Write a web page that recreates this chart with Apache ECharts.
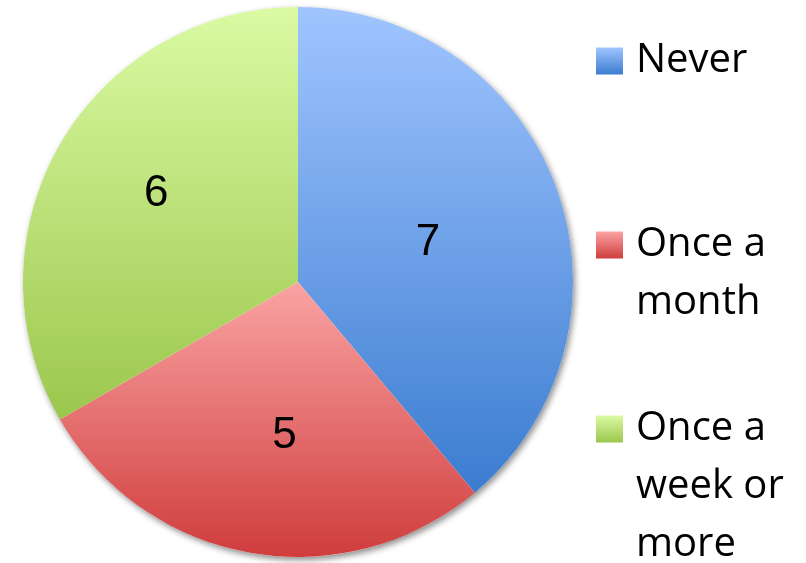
<!DOCTYPE html>
<html>
<head>
<meta charset="utf-8">
<script src="https://cdn.jsdelivr.net/npm/echarts@6/dist/echarts.min.js"></script>
<style>
  html, body { margin: 0; padding: 0; background: #fff; }
  #chart { width: 806px; height: 563px; }
</style>
</head>
<body>
<div id="chart"></div>
<script>
// data
const categories = ['Never', 'Once a\nmonth', 'Once a\nweek or\nmore']
const values = [7, 5, 6]
const topColors = ['#a0c5ff', '#faa3a3', '#dbfaa3']
const bottomColors = ['#3b7cd0', '#d03d3d', '#9bc74d']
// nudge labels to where the original put them
const labelOffsets = [[-2, 9], [11, 15], [-20, -18]]

const grad = (a, b) => new echarts.graphic.LinearGradient(0, 0, 0, 1, [
  { offset: 0, color: a },
  { offset: 1, color: b }
])

const pieData = categories.map((name, i) => ({
  name: name,
  value: values[i],
  itemStyle: { color: grad(topColors[i], bottomColors[i]) },
  label: { offset: labelOffsets[i] }
}))

const lineH = 58
const markerCenters = [60, 244, 428]
const legends = categories.map((name, i) => {
  const lines = name.split('\n').length
  // pad with empty lines above so the marker sits beside the first line
  const pad = '\n'.repeat(lines - 1)
  return {
    data: [name],
    left: 596,
    top: markerCenters[i] - (2 * lines - 1) * lineH / 2 + 1,
    padding: 0,
    orient: 'vertical',
    itemWidth: 27,
    itemHeight: 27,
    icon: 'rect',
    selectedMode: false,
    formatter: n => pad + n,
    textStyle: {
      fontFamily: 'Open Sans',
      fontSize: 40,
      color: '#000',
      lineHeight: lineH,
      padding: [0, 0, 0, 8]
    }
  }
})

const chart = echarts.init(document.getElementById('chart'))
chart.setOption({
  animation: false,
  legend: legends,
  series: [
    {
      // shadow disc under the pie
      type: 'pie',
      silent: true,
      z: 1,
      center: [298, 282],
      radius: 275,
      label: { show: false },
      itemStyle: {
        color: '#fff',
        shadowBlur: 6,
        shadowOffsetX: 2,
        shadowOffsetY: 3,
        shadowColor: 'rgba(0,0,0,0.45)'
      },
      data: [{ value: 1, name: '_bg' }]
    },
    {
      type: 'pie',
      z: 2,
      center: [298, 282],
      radius: 275,
      startAngle: 90,
      clockwise: true,
      label: {
        show: true,
        position: 'inside',
        formatter: '{c}',
        fontFamily: 'Liberation Sans',
        fontSize: 44,
        color: '#000'
      },
      labelLine: { show: false },
      emphasis: { disabled: true },
      data: pieData
    }
  ]
})
</script>
</body>
</html>
